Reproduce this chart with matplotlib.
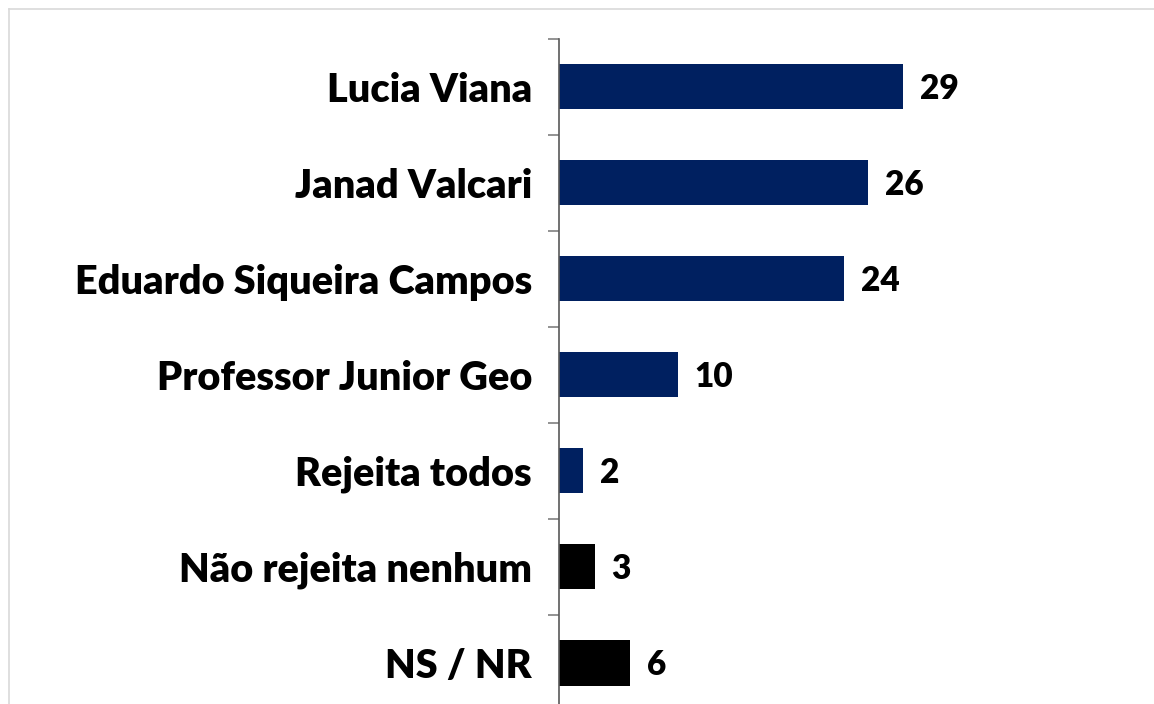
import numpy as np
import matplotlib.pyplot as plt
from matplotlib.lines import Line2D

labels = ['Lucia Viana', 'Janad Valcari', 'Eduardo Siqueira Campos',
          'Professor Junior Geo', 'Rejeita todos', 'Não rejeita nenhum', 'NS / NR']
values = [29, 26, 24, 10, 2, 3, 6]
colors = ['#002060', '#002060', '#002060', '#002060', '#002060', '#000000', '#000000']

plt.rcParams['font.family'] = ['Lato', 'DejaVu Sans']

W, H = 1154, 704
fig = plt.figure(figsize=(W/100, H/100), dpi=100)
# axes placed in pixel terms, bottom runs off the picture like the original
ax_left, ax_right, ax_top, ax_bot = 559, 1140, 38.5, 711
ax = fig.add_axes([ax_left/W, 1-ax_bot/H, (ax_right-ax_left)/W, (ax_bot-ax_top)/H])

y = np.arange(len(labels))
ax.barh(y, values, height=0.47, color=colors)
ax.set_ylim(len(labels)-0.5, -0.5)
px_per_unit = 11.87
ax.set_xlim(0, (ax_right-ax_left)/px_per_unit)

for yi, v in zip(y, values):
    ax.annotate(str(v), (v, yi), xytext=(17, -2), textcoords='offset pixels',
                va='center', ha='left', fontsize=24, fontweight='heavy')

ax.set_yticks(y)
ax.set_yticklabels(labels, fontsize=28.5, fontweight='heavy')
ax.tick_params(axis='y', which='major', length=0, pad=19.5)
ax.set_yticks(np.arange(-0.5, len(labels)+0.5, 1), minor=True)
ax.tick_params(axis='y', which='minor', length=8, color='#808080', width=1.2)
ax.set_xticks([])
for s in ['top', 'right', 'bottom']:
    ax.spines[s].set_visible(False)
ax.spines['left'].set_color('#595959')
ax.spines['left'].set_linewidth(1.2)

# light frame of the slide chart area
fig.add_artist(Line2D([9/W, 1], [1-9/H, 1-9/H], color='#d9d9d9', lw=1.2, transform=fig.transFigure))
fig.add_artist(Line2D([9/W, 9/W], [0, 1-9/H], color='#d9d9d9', lw=1.2, transform=fig.transFigure))

fig.savefig('out.png', dpi=100)
